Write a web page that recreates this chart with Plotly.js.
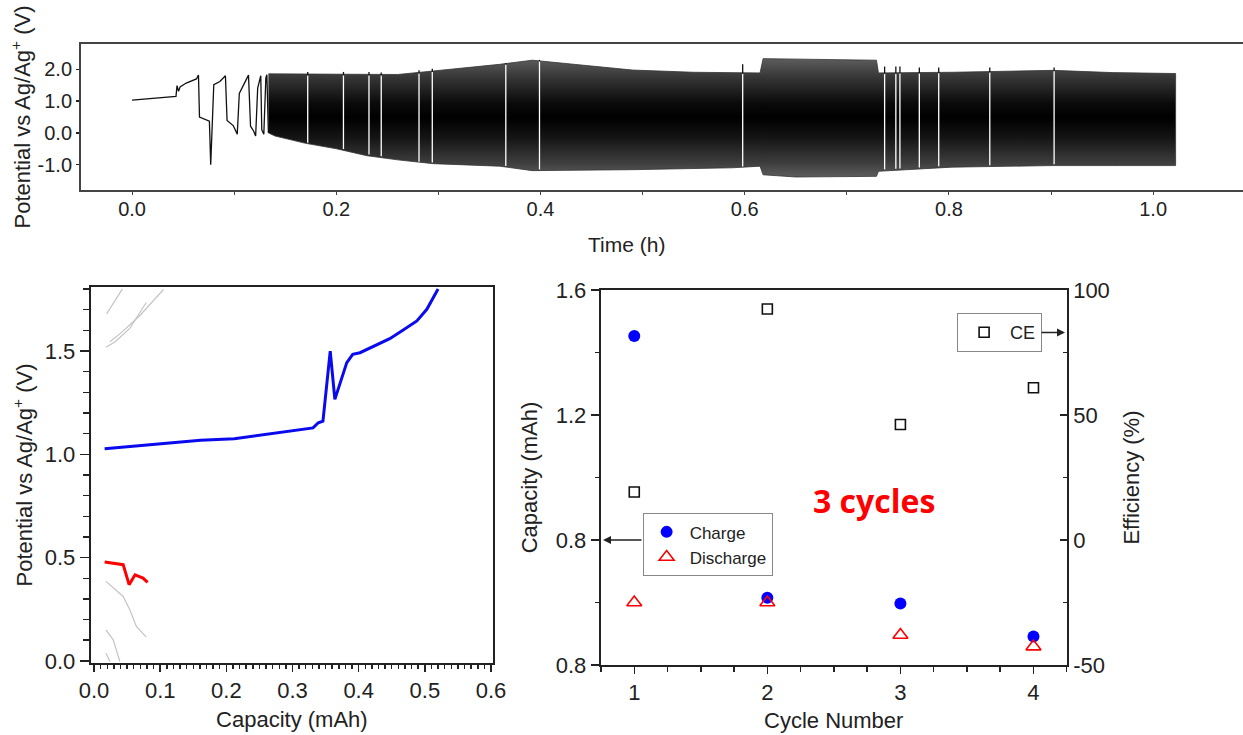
<!DOCTYPE html>
<html>
<head>
<meta charset="utf-8">
<script src="https://cdn.plot.ly/plotly-3.0.1.min.js"></script>
<style>html,body{margin:0;padding:0;background:#fff;}#chart{width:1243px;height:735px;}</style>
</head>
<body>
<div id="chart"></div>
<script>
// ---------- Top panel: potential vs time ----------
// first individual cycles (h, V)
var earlyT = [0, 0.040, 0.043, 0.044, 0.0455, 0.047, 0.053, 0.063, 0.065, 0.066, 0.070, 0.074, 0.0757, 0.077, 0.0785, 0.080, 0.086, 0.0914, 0.093, 0.099, 0.103, 0.105, 0.114, 0.116, 0.119, 0.121, 0.123, 0.126, 0.127, 0.129, 0.131, 0.132, 0.1335];
var earlyV = [1.03, 1.13, 1.15, 1.49, 1.31, 1.45, 1.57, 1.70, 1.82, 0.50, 0.45, 0.40, 0.37, -1.00, 0.40, 1.52, 1.62, 1.80, 0.39, 0.23, -0.04, 1.24, 1.82, 0.21, 0.06, -0.10, 1.41, 1.80, 0.10, -0.04, 1.73, 1.83, 0.00];
// envelope of the dense cycling band (h, upper V, lower V)
var bandT     = [0.1335, 0.14, 0.17, 0.20, 0.23, 0.26, 0.295, 0.327, 0.36, 0.392, 0.425, 0.49, 0.55, 0.588, 0.615, 0.618, 0.65, 0.703, 0.729, 0.731, 0.803, 0.902, 0.96, 1.022];
var bandUpper = [1.86, 1.86, 1.85, 1.84, 1.84, 1.84, 1.95, 2.05, 2.16, 2.29, 2.19, 1.98, 1.91, 1.89, 1.89, 2.34, 2.33, 2.30, 2.29, 1.89, 1.91, 1.97, 1.90, 1.87];
var bandLower = [0.00, -0.10, -0.33, -0.50, -0.72, -0.85, -0.97, -1.00, -1.05, -1.19, -1.18, -1.16, -1.13, -1.10, -1.05, -1.32, -1.39, -1.38, -1.37, -1.21, -1.08, -1.03, -1.03, -1.03];
// interrupted cycles showing as white gaps with a small overshoot tip
var gapT   = [0.172, 0.207, 0.232, 0.244, 0.281, 0.294, 0.366, 0.399, 0.598, 0.737, 0.748, 0.752, 0.771, 0.790, 0.840, 0.903];
var gapTip = [1.92, 1.92, 1.92, 1.90, 1.97, 2.02, 2.20, 2.30, 2.16, 2.09, 2.09, 2.09, 2.06, 2.06, 2.06, 2.06];
var gapUp  = [1.84, 1.84, 1.84, 1.84, 1.90, 1.95, 2.18, 2.28, 1.89, 1.89, 1.89, 1.90, 1.90, 1.91, 1.93, 1.97];
var gapLow = [-0.35, -0.55, -0.72, -0.78, -0.95, -0.97, -1.08, -1.19, -1.10, -1.19, -1.17, -1.16, -1.13, -1.09, -1.06, -1.03];
var timeTicks = [0, 0.2, 0.4, 0.6, 0.8, 1.0];
var timeTickText = ['0.0', '0.2', '0.4', '0.6', '0.8', '1.0'];
var potTicks = [-1, 0, 1, 2];
var potTickText = ['-1.0', '0.0', '1.0', '2.0'];

// ---------- Bottom-left: potential vs capacity ----------
var chgCap = [0.016, 0.10, 0.161, 0.212, 0.262, 0.277, 0.292, 0.313, 0.331, 0.339, 0.346, 0.357, 0.364, 0.382, 0.391, 0.402, 0.422, 0.447, 0.465, 0.488, 0.503, 0.520];
var chgV   = [1.027, 1.049, 1.068, 1.076, 1.097, 1.105, 1.113, 1.121, 1.128, 1.153, 1.161, 1.500, 1.266, 1.444, 1.484, 1.492, 1.524, 1.560, 1.597, 1.646, 1.702, 1.800];
var disCap = [0.016, 0.044, 0.053, 0.062, 0.074, 0.081];
var disV   = [0.479, 0.466, 0.369, 0.417, 0.401, 0.380];
var gray1Cap = [0.019, 0.043], gray1V = [1.680, 1.801];
var gray2Cap = [0.018, 0.032, 0.054, 0.079], gray2V = [1.518, 1.545, 1.610, 1.735];
var gray3Cap = [0.024, 0.039, 0.069, 0.105], gray3V = [1.545, 1.583, 1.671, 1.798];
var gray4Cap = [0.018, 0.044, 0.054, 0.064, 0.079], gray4V = [0.385, 0.312, 0.248, 0.167, 0.115];
var gray5Cap = [0.018, 0.029, 0.039], gray5V = [0.150, 0.102, -0.003];
var gray6Cap = [0.018, 0.024], gray6V = [0.037, -0.003];
var capTicks = [0, 0.5, 1.0, 1.5];
var capTickText = ['0.0', '0.5', '1.0', '1.5'];

// ---------- Bottom-right: capacity & efficiency vs cycle ----------
var cycles = [1, 2, 3, 4];
var chargeCapacity = [1.453, 0.615, 0.597, 0.491];
var dischargeCapacity = [0.600, 0.600, 0.496, 0.459];
var coulombicEff = [19.2, 92.4, 46.2, 60.9];
var capAxisVals = [0.4, 0.8, 1.2, 1.6];
var capAxisText = ['0.8', '0.8', '1.2', '1.6'];
var effVals = [-50, 0, 50, 100];
var effText = ['-50', '0', '50', '100'];

// ---------- build traces ----------
var FONT = 'Arial, "Liberation Sans", sans-serif';

var bandX = bandT.concat(bandT.slice().reverse());
var bandY = bandUpper.concat(bandLower.slice().reverse());

var whiteX = [], whiteY = [], tipX = [], tipY = [];
for (var i = 0; i < gapT.length; i++) {
  whiteX.push(gapT[i], gapT[i], null);
  whiteY.push(gapLow[i] + 0.04, gapUp[i] - 0.03, null);
  tipX.push(gapT[i], gapT[i], null);
  tipY.push(gapUp[i] - 0.02, gapTip[i], null);
}

function grayLine(x, y) {
  return {x: x, y: y, xaxis: 'x2', yaxis: 'y2', mode: 'lines', type: 'scatter',
          line: {color: '#c4c4c4', width: 1.2}, showlegend: false, hoverinfo: 'skip'};
}

var traces = [
  {x: bandX, y: bandY, xaxis: 'x', yaxis: 'y', type: 'scatter', mode: 'lines', fill: 'toself',
   fillcolor: '#1a1a1a',
   fillgradient: {type: 'vertical', start: -1.4, stop: 2.35,
     colorscale: [[0, '#5e5e5e'], [0.12, '#3e3e3e'], [0.33, '#151515'], [0.5, '#000000'], [0.62, '#0a0a0a'], [0.84, '#363636'], [1, '#5e5e5e']]},
   line: {color: '#333333', width: 0.8}, showlegend: false, hoverinfo: 'skip'},
  {x: whiteX, y: whiteY, xaxis: 'x', yaxis: 'y', type: 'scatter', mode: 'lines',
   line: {color: '#ffffff', width: 1.3}, showlegend: false, hoverinfo: 'skip'},
  {x: tipX, y: tipY, xaxis: 'x', yaxis: 'y', type: 'scatter', mode: 'lines',
   line: {color: '#111111', width: 1.3}, showlegend: false, hoverinfo: 'skip'},
  {x: earlyT, y: earlyV, xaxis: 'x', yaxis: 'y', type: 'scatter', mode: 'lines',
   line: {color: '#111111', width: 1.3}, showlegend: false},

  grayLine(gray1Cap, gray1V), grayLine(gray2Cap, gray2V), grayLine(gray3Cap, gray3V),
  grayLine(gray4Cap, gray4V), grayLine(gray5Cap, gray5V), grayLine(gray6Cap, gray6V),
  {x: chgCap, y: chgV, xaxis: 'x2', yaxis: 'y2', type: 'scatter', mode: 'lines',
   line: {color: '#0a0aee', width: 3}, showlegend: false},
  {x: disCap, y: disV, xaxis: 'x2', yaxis: 'y2', type: 'scatter', mode: 'lines',
   line: {color: '#ff0000', width: 3}, showlegend: false},

  {x: cycles, y: chargeCapacity, xaxis: 'x3', yaxis: 'y3', type: 'scatter', mode: 'markers', name: 'Charge',
   legend: 'legend', marker: {symbol: 'circle', size: 12, color: '#0000ff'}},
  {x: cycles, y: dischargeCapacity, xaxis: 'x3', yaxis: 'y3', type: 'scatter', mode: 'markers', name: 'Discharge',
   legend: 'legend', marker: {symbol: 'triangle-up-open', size: 13, color: '#ff0000', line: {width: 1.6, color: '#ff0000'}}},
  {x: cycles, y: coulombicEff, xaxis: 'x3', yaxis: 'y4', type: 'scatter', mode: 'markers', name: 'CE',
   legend: 'legend2', marker: {symbol: 'square-open', size: 10, color: '#111111', line: {width: 1.6, color: '#111111'}}}
];

var axCommon = {showgrid: false, zeroline: false, showline: true, linecolor: '#222', linewidth: 2,
                automargin: false, tickcolor: '#222', tickwidth: 1.5};

function ax(extra) { var o = {}; for (var k in axCommon) o[k] = axCommon[k]; for (var k2 in extra) o[k2] = extra[k2]; return o; }

var layout = {
  width: 1243, height: 735,
  margin: {l: 0, r: 0, t: 0, b: 0},
  paper_bgcolor: '#fff', plot_bgcolor: '#fff',
  font: {family: FONT, color: '#222', size: 20},
  xaxis: ax({domain: [0.0652, 1], range: [-0.05, 1.088], anchor: 'y', linecolor: '#444',
    tickmode: 'array', tickvals: timeTicks, ticktext: timeTickText, ticks: '',
    minor: {tickmode: 'linear', tick0: 0, dtick: 0.1, ticks: 'outside', ticklen: 3, tickcolor: '#444'},
    mirror: true, tickfont: {size: 20}}),
  yaxis: ax({domain: [0.7415, 0.9401], range: [-1.8, 2.8], anchor: 'x', linecolor: '#444',
    tickmode: 'array', tickvals: potTicks, ticktext: potTickText, ticks: 'outside', ticklen: 3,
    tickfont: {size: 20},
    title: {text: 'Potential vs Ag/Ag<sup>+</sup> (V)', font: {size: 22}, standoff: 1}}),

  xaxis2: ax({domain: [0.073, 0.3966], range: [-0.005, 0.603], anchor: 'y2',
    tickmode: 'linear', tick0: 0, dtick: 0.1, tickformat: '.1f', ticks: 'outside', ticklen: 7,
    minor: {tickmode: 'linear', tick0: 0, dtick: 0.01, ticks: 'outside', ticklen: 4, tickcolor: '#222'},
    mirror: true, tickfont: {size: 22},
    title: {text: 'Capacity (mAh)', font: {size: 22}, standoff: 9}}),
  yaxis2: ax({domain: [0.098, 0.6095], range: [-0.01, 1.81], anchor: 'x2',
    tickmode: 'array', tickvals: capTicks, ticktext: capTickText, ticks: 'outside', ticklen: 9,
    minor: {tickmode: 'linear', tick0: 0, dtick: 0.1, ticks: 'outside', ticklen: 6, tickcolor: '#222'},
    mirror: true, tickfont: {size: 22},
    title: {text: 'Potential vs Ag/Ag<sup>+</sup> (V)', font: {size: 22}, standoff: 6}}),

  xaxis3: ax({domain: [0.4833, 0.8582], range: [0.748, 4.25], anchor: 'y3',
    tickmode: 'array', tickvals: cycles, ticktext: ['1', '2', '3', '4'], ticks: 'outside', ticklen: 7,
    minor: {tickmode: 'linear', tick0: 0, dtick: 0.25, ticks: 'outside', ticklen: 5, tickcolor: '#222'},
    mirror: true, tickfont: {size: 22},
    title: {text: 'Cycle Number', font: {size: 22}, standoff: 8}}),
  yaxis3: ax({domain: [0.0952, 0.6054], range: [0.4, 1.6], anchor: 'x3',
    tickmode: 'array', tickvals: capAxisVals, ticktext: capAxisText, ticks: 'outside', ticklen: 8,
    minor: {tickmode: 'linear', tick0: 0.4, dtick: 0.2, ticks: 'outside', ticklen: 4, tickcolor: '#222'},
    tickfont: {size: 22},
    title: {text: 'Capacity (mAh)', font: {size: 22}, standoff: 12}}),
  yaxis4: ax({overlaying: 'y3', side: 'right', anchor: 'x3', range: [-50, 100],
    tickmode: 'array', tickvals: effVals, ticktext: effText, ticks: 'inside', ticklen: 7,
    minor: {tickmode: 'linear', tick0: -50, dtick: 25, ticks: 'inside', ticklen: 4, tickcolor: '#222'},
    tickfont: {size: 22},
    title: {text: 'Efficiency (%)', font: {size: 22}, standoff: 15}}),

  legend: {x: 0.517, y: 0.3016, xanchor: 'left', yanchor: 'top', bgcolor: '#fff',
    bordercolor: '#888', borderwidth: 1, font: {size: 17, family: FONT, color: '#222'},
    tracegroupgap: 0, itemwidth: 36},
  legend2: {x: 0.770, y: 1 - 332.5 / 735, xanchor: 'left', yanchor: 'middle', bgcolor: '#fff',
    bordercolor: '#888', borderwidth: 1, font: {size: 18, family: FONT, color: '#222'}, itemwidth: 42},

  annotations: [
    {xref: 'paper', yref: 'paper', x: 626 / 1243, y: 1 - 244 / 735, xanchor: 'center', yanchor: 'middle',
     text: 'Time (h)', showarrow: false, font: {family: FONT, size: 21, color: '#222'}},
    {xref: 'x3', yref: 'y3', x: 2.8, y: 0.928, text: '<b>3 cycles</b>', showarrow: false,
     font: {family: '"Open Sans", sans-serif', size: 32, color: '#ff0000'}},
    {xref: 'paper', yref: 'paper', x: 603 / 1243, y: 1 - 540 / 735, ax: 40, ay: 0, text: '',
     showarrow: true, arrowhead: 2, arrowsize: 1, arrowwidth: 1.6, arrowcolor: '#222'},
    {xref: 'paper', yref: 'paper', x: 1065 / 1243, y: 1 - 332.5 / 735, ax: -25, ay: 0, text: '',
     showarrow: true, arrowhead: 2, arrowsize: 1, arrowwidth: 1.6, arrowcolor: '#222'}
  ]
};

Plotly.newPlot('chart', traces, layout, {displayModeBar: false, staticPlot: true});
</script>
</body>
</html>
